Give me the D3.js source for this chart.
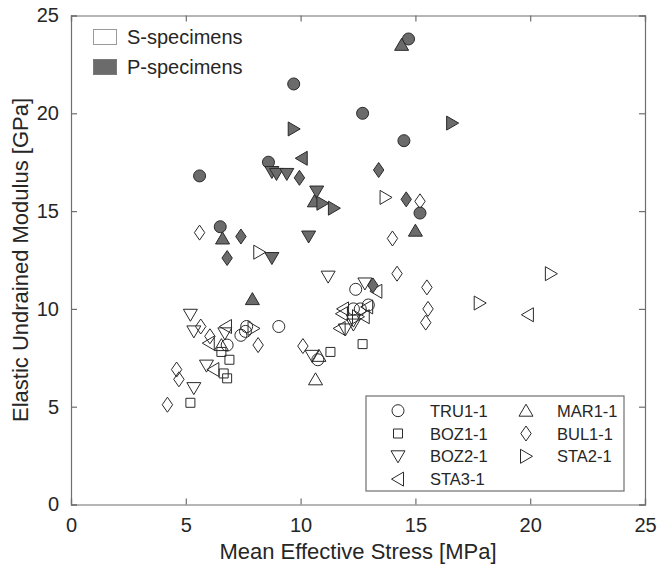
<!DOCTYPE html>
<html>
<head>
<meta charset="utf-8">
<script src="https://cdn.jsdelivr.net/npm/d3@7"></script>
<style>
  html, body { margin: 0; padding: 0; background: #fff; }
  svg { display: block; font-family: "Liberation Sans", Arial, Helvetica, sans-serif; }
</style>
</head>
<body>
<svg id="chart" width="672" height="566"></svg>
<script>
// ---------------- DATA ----------------
const xTicks = [0, 5, 10, 15, 20, 25];
const yTicks = [0, 5, 10, 15, 20, 25];
const xLabel = "Mean Effective Stress [MPa]";
const yLabel = "Elastic Undrained Modulus [GPa]";
const groupLegend = ["S-specimens", "P-specimens"];

const specimens = ["TRU1-1", "BOZ1-1", "BOZ2-1", "STA3-1", "MAR1-1", "BUL1-1", "STA2-1"];
const specimenShapes = ["circle", "square", "down", "left", "up", "diamond", "right"];

// [mean effective stress, modulus] pairs, S-specimens (open) and P-specimens (filled)
const tru_S = [[12.4,11.0],[7.4,8.65],[7.6,8.85],[7.65,9.1],[9.05,9.1],[6.8,8.15],[10.75,7.4],[12.3,10.0],[12.6,10.0],[12.95,10.2]];
const tru_P = [[9.7,21.5],[8.6,17.5],[5.6,16.8],[6.5,14.2],[14.7,23.8],[12.7,20.0],[14.5,18.6],[15.2,14.9]];
const boz1_S = [[6.55,7.8],[6.9,7.4],[6.65,6.7],[6.8,6.45],[5.2,5.2],[11.3,7.8],[12.7,8.2]];
const boz1_P = [];
const boz2_S = [[5.2,9.7],[5.35,8.85],[6.7,8.75],[5.35,5.95],[5.9,7.1],[10.5,7.6],[11.2,11.65],[12.8,11.3],[12.3,9.4],[11.95,8.95],[12.3,9.2]];
const boz2_P = [[8.75,17.0],[8.95,16.9],[9.4,16.9],[10.7,16.0],[10.35,13.7],[8.75,12.6]];
const sta3_S = [[6.75,9.1],[6.0,8.25],[6.2,6.9],[19.9,9.7],[11.85,10.0],[12.9,10.1],[13.3,10.9],[11.8,9.75],[12.75,9.6],[11.7,9.0]];
const sta3_P = [[10.05,17.7]];
const mar_S = [[6.55,8.15],[10.8,7.6],[10.65,6.4]];
const mar_P = [[14.4,23.5],[6.6,13.6],[10.6,15.5],[15.0,14.0],[7.9,10.5]];
const bul_S = [[5.6,13.9],[14.0,13.6],[15.2,15.5],[5.65,9.1],[6.05,8.6],[8.15,8.15],[4.6,6.9],[4.7,6.4],[4.2,5.1],[10.1,8.1],[14.2,11.8],[15.5,11.1],[15.55,10.0],[15.45,9.3]];
const bul_P = [[9.95,16.7],[7.4,13.7],[6.8,12.6],[13.4,17.1],[14.6,15.6],[13.15,11.2]];
const sta2_S = [[8.2,12.9],[13.7,15.7],[7.95,9.0],[20.9,11.8],[17.8,10.3],[12.5,9.6]];
const sta2_P = [[9.7,19.2],[10.95,15.4],[11.45,15.15],[16.6,19.5]];

const sPoints = [tru_S, boz1_S, boz2_S, sta3_S, mar_S, bul_S, sta2_S];
const pPoints = [tru_P, boz1_P, boz2_P, sta3_P, mar_P, bul_P, sta2_P];

// ---------------- LAYOUT ----------------
const W = 672, H = 566;
const margin = { left: 71, right: 27, top: 15.5, bottom: 61.5 };
const svg = d3.select("#chart");
const x = d3.scaleLinear().domain([0, 25]).range([margin.left, W - margin.right]);
const y = d3.scaleLinear().domain([0, 25]).range([H - margin.bottom, margin.top]);

const axisColor = "#6f6f6f";
const textColor = "#262626";
const fillP = "#6b6b6b";
const strokeMark = "#2a2a2a";

// marker path generator
function markerPath(shape) {
  switch (shape) {
    case "circle": return "M6,0A6,6 0 1,1 -6,0A6,6 0 1,1 6,0Z";
    case "square": return "M-4.5,-4.5H4.5V4.5H-4.5Z";
    case "up": return "M0,-6.5L7,5.5L-7,5.5Z";
    case "down": return "M0,6.5L7,-5.5L-7,-5.5Z";
    case "left": return "M-6.5,0L5.5,-7L5.5,7Z";
    case "right": return "M6.5,0L-5.5,-7L-5.5,7Z";
    case "diamond": return "M0,-7.5L5.2,0L0,7.5L-5.2,0Z";
  }
}

// ---------------- AXES ----------------
const gx = svg.append("g").attr("transform", `translate(0,${y(0)})`)
  .call(d3.axisBottom(x).tickValues(xTicks).tickSize(-6).tickPadding(13).tickFormat(d3.format("d")));
const gy = svg.append("g").attr("transform", `translate(${x(0)},0)`)
  .call(d3.axisLeft(y).tickValues(yTicks).tickSize(-6).tickPadding(12).tickFormat(d3.format("d")));
const gxt = svg.append("g").attr("transform", `translate(0,${y(25)})`)
  .call(d3.axisTop(x).tickValues(xTicks).tickSize(-6).tickFormat(""));
const gyr = svg.append("g").attr("transform", `translate(${x(25)},0)`)
  .call(d3.axisRight(y).tickValues(yTicks).tickSize(-6).tickFormat(""));

[gx, gy, gxt, gyr].forEach(g => {
  g.select(".domain").attr("stroke", axisColor).attr("stroke-width", 1.2);
  g.selectAll(".tick line").attr("stroke", axisColor).attr("stroke-width", 1.2);
  g.selectAll(".tick text").attr("fill", textColor).style("font-size", "20px")
    .style("font-family", "'Liberation Sans', Arial, sans-serif");
});

// axis titles
svg.append("text").attr("x", (x(0) + x(25)) / 2).attr("y", 559)
  .attr("text-anchor", "middle").attr("fill", textColor).style("font-size", "22px").text(xLabel);
svg.append("text").attr("transform", `translate(28,${(y(0) + y(25)) / 2}) rotate(-90)`)
  .attr("text-anchor", "middle").attr("fill", textColor).style("font-size", "22px").text(yLabel);

// ---------------- MARKERS ----------------
const plot = svg.append("g");
specimens.forEach((name, i) => {
  plot.selectAll(null).data(sPoints[i]).enter().append("path")
    .attr("d", markerPath(specimenShapes[i]))
    .attr("transform", d => `translate(${x(d[0])},${y(d[1])})`)
    .attr("fill", "none").attr("stroke", strokeMark).attr("stroke-width", 1);
});
specimens.forEach((name, i) => {
  plot.selectAll(null).data(pPoints[i]).enter().append("path")
    .attr("d", markerPath(specimenShapes[i]))
    .attr("transform", d => `translate(${x(d[0])},${y(d[1])})`)
    .attr("fill", fillP).attr("stroke", strokeMark).attr("stroke-width", 1);
});

// ---------------- GROUP LEGEND (top-left) ----------------
const gl = svg.append("g");
groupLegend.forEach((t, i) => {
  const yy = 37 + i * 30;
  gl.append("rect").attr("x", 93.5).attr("y", yy - 7.5).attr("width", 23).attr("height", 15)
    .attr("fill", i === 0 ? "#fff" : fillP).attr("stroke", i === 0 ? "#9a9a9a" : "#7a7a7a");
  gl.append("text").attr("x", 127).attr("y", yy + 7).attr("fill", textColor)
    .style("font-size", "20px").text(t);
});

// ---------------- SPECIMEN LEGEND (bottom-right) ----------------
const lg = svg.append("g");
lg.append("rect").attr("x", 366).attr("y", 396).attr("width", 258).attr("height", 95)
  .attr("fill", "#fff").attr("stroke", axisColor).attr("stroke-width", 1.2);
specimens.forEach((name, i) => {
  const col = i < 4 ? 0 : 1;
  const row = i < 4 ? i : i - 4;
  const mx = col === 0 ? 398 : 526;
  const tx = col === 0 ? 430 : 557;
  const yy = 410.7 + row * 22.8;
  lg.append("path").attr("d", markerPath(specimenShapes[i]))
    .attr("transform", `translate(${mx},${yy})`)
    .attr("fill", "none").attr("stroke", strokeMark).attr("stroke-width", 1);
  lg.append("text").attr("x", tx).attr("y", yy + 6).attr("fill", textColor)
    .style("font-size", "16.5px").text(name);
});
</script>
</body>
</html>
